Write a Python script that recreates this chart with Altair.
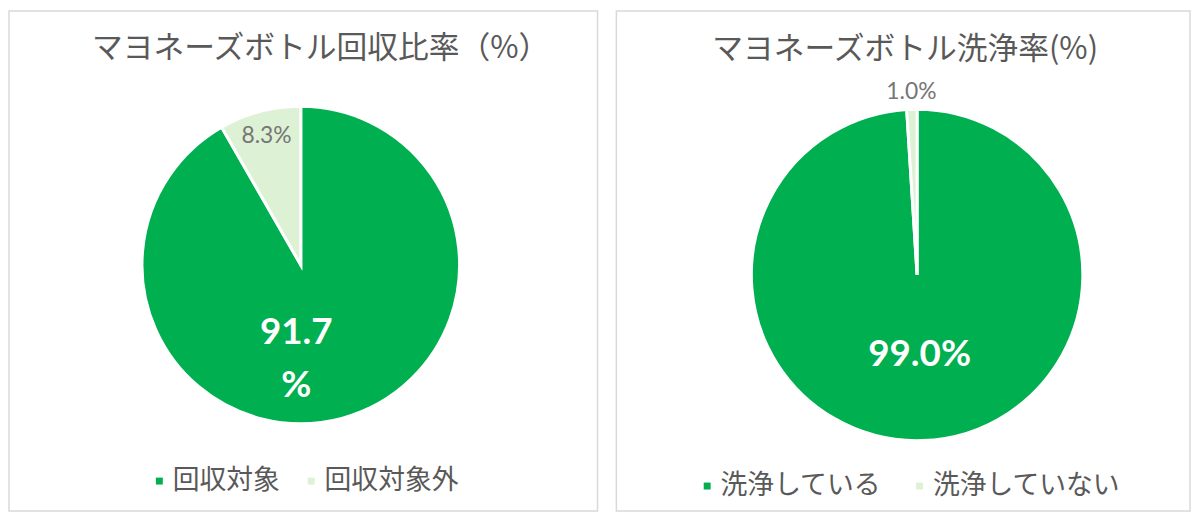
import altair as alt
import pandas as pd

# ---- data ----
left_title = "マヨネーズボトル回収比率（%）"
left_categories = ["回収対象", "回収対象外"]
left_values = [91.7, 8.3]
left_big_labels = ["91.7\n%", ""]
left_small_labels = ["", "8.3%"]

right_title = "マヨネーズボトル洗浄率(%)"
right_categories = ["洗浄している", "洗浄していない"]
right_values = [99.0, 1.0]
right_big_labels = ["99.0%", ""]
right_small_labels = ["", "1.0%"]

colors = ["#00B050", "#DDF1D5"]

JP = "Noto Sans CJK JP"
NUM = "Lato"
TXT = "#595959"


def panel(title, cats, vals, big, small, width, height, cx, cy, r,
          title_x, title_y, small_r, big_r, big_dx, big_dy, leg_x, leg_y, leg_pad):
    df = pd.DataFrame({
        "cat": cats,
        "value": vals,
        "ord": list(range(len(cats))),
        "big": big,
        "small": small,
    })
    base = alt.Chart(df).encode(
        theta=alt.Theta("value:Q", stack=True),
        order=alt.Order("ord:Q"),
    )
    arcs = base.mark_arc(outerRadius=r, stroke="white", strokeWidth=3).encode(
        x=alt.value(cx), y=alt.value(cy),
        color=alt.Color(
            "cat:N",
            scale=alt.Scale(domain=cats, range=colors),
            legend=alt.Legend(
                title=None, orient="none", legendX=leg_x, legendY=leg_y,
                direction="horizontal", symbolType="square", symbolSize=49,
                symbolStrokeWidth=0, symbolOpacity=1,
                labelFont=JP, labelFontSize=27, labelColor=TXT,
                labelOffset=0, columnPadding=leg_pad, labelLimit=400,
            ),
        ),
    )
    small_txt = base.mark_text(
        radius=small_r, font=NUM, fontSize=23, color="#767676",
        align="center", baseline="middle",
    ).encode(x=alt.value(cx), y=alt.value(cy), text="small:N")
    big_txt = base.mark_text(
        radius=big_r, font=NUM, fontSize=37, fontWeight="bold", color="white",
        align="center", baseline="middle", lineBreak="\n", lineHeight=53,
        dx=big_dx, dy=big_dy,
    ).encode(x=alt.value(cx), y=alt.value(cy), text="big:N")
    ttl = alt.Chart(pd.DataFrame({"t": [title]})).mark_text(
        font=JP, fontSize=31, color=TXT, align="center", baseline="middle",
    ).encode(x=alt.value(title_x), y=alt.value(title_y), text="t:N")
    return alt.layer(arcs, small_txt, big_txt, ttl).properties(width=width, height=height)


left = panel(left_title, left_categories, left_values, left_big_labels, left_small_labels,
             593, 504, 294, 256, 160, 314, 38, 134, 95, -29, -23, 138, 460, 18)
right = panel(right_title, right_categories, right_values, right_big_labels, right_small_labels,
              578, 504, 303, 266, 167, 291, 39, 184, 81, 0, 0, 78, 465, 25)

chart = alt.hconcat(left, right, spacing=17).resolve_scale(
    color="independent", theta="independent"
).properties(padding=0).configure_view(stroke="#D9D9D9", strokeWidth=1.5)

chart.save("out.html", embed_options={"renderer": "svg", "actions": False})
